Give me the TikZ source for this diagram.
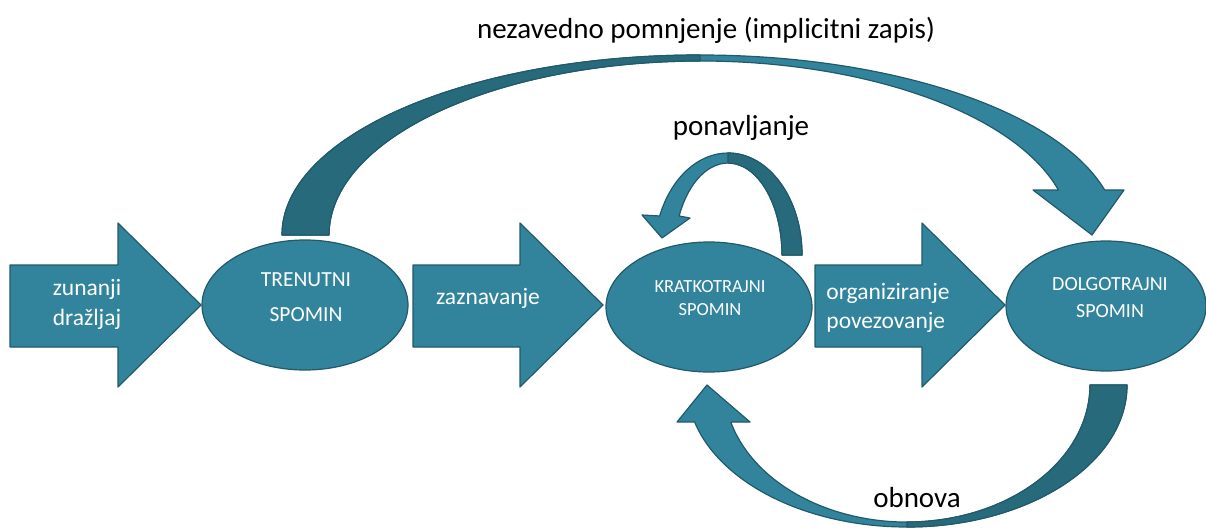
\documentclass[tikz,border=0pt]{standalone}
\usepackage{fontspec}
\setmainfont{Carlito}
\usepackage{tikz}
\usetikzlibrary{positioning}
\usetikzlibrary{shapes.geometric}
\usepackage{xcolor}
\definecolor{tealA}{HTML}{31849B}
\definecolor{tealB}{HTML}{276A7B}
\definecolor{rob}{HTML}{215A69}

\tikzset{
  lik/.style={fill=tealA, draw=rob, line width=1.2pt, line join=round},
  senca/.style={lik, fill=tealB},
  spomin/.style={ellipse, lik, minimum width=206, minimum height=130, inner sep=0pt},
  belo/.style={text=white, align=center, inner sep=0pt},
  napis/.style={text=black, inner sep=0pt, font=\fontsize{29}{35}\selectfont},
}

% ravna puscica: rep x, konica x
\newcommand{\blok}[2]{\filldraw[lik] (#1,265) -- ({#2-83},265) -- ({#2-83},223) -- (#2,305) -- ({#2-83},387) -- ({#2-83},347) -- (#1,347) -- cycle;}

\begin{document}
\begin{tikzpicture}[x=1pt, y=-1pt]
			\useasboundingbox (0,0) rectangle (1206,530);
			% ravne puscice
			\blok{10}{201}
			\blok{413}{603}
			\blok{815}{1005}
			% spomini
			\node[spomin] (tren) at (305,305) {};
			\node[spomin] (krat) at (709,307) {};
			\node[spomin, minimum width=200] (dolg) at (1106,306) {};
			\node[belo, font=\fontsize{21.5}{35}\selectfont] (trentxt) at (306,297) {TRENUTNI\\SPOMIN};
			\node[belo, font=\fontsize{18.5}{23}\selectfont] (krattxt) at (710,298) {KRATKOTRAJNI\\SPOMIN};
			\node[belo, font=\fontsize{20}{27}\selectfont] (dolgtxt) at (1110,298) {DOLGOTRAJNI\\SPOMIN};
			\node[belo, font=\fontsize{23.5}{30}\selectfont] (drazljaj) at (87,304) {zunanji\\dražljaj};
			\node[belo, font=\fontsize{23.5}{30}\selectfont] (zaznava) at (488,298) {zaznavanje};
			\node[belo, align=left, font=\fontsize{23.5}{29}\selectfont] (organ) at (888,308) {organiziranje\\povezovanje};
			% nezavedno pomnjenje
			\filldraw[lik] (282,235) arc[start angle=180, end angle=345.5, x radius=418, y radius=180]
				-- (1124,190) -- (1092,235) -- (1033,190) -- (1058.4,190)
				arc[start angle=345, end angle=180, x radius=371, y radius=174] -- cycle;
			\filldraw[senca] (282,235) arc[start angle=180, end angle=270, x radius=418, y radius=180]
				-- (700,61) arc[start angle=270, end angle=180, x radius=371, y radius=174] -- cycle;
			% ponavljanje
			\filldraw[lik] (802,255) arc[start angle=360, end angle=202.5, x radius=74, y radius=102]
				-- (642,215) -- (662,238) -- (690,218) -- (679.1,216)
				arc[start angle=205.1, end angle=360, x radius=54, y radius=92] -- cycle;
			\filldraw[senca] (728,153) arc[start angle=270, end angle=360, x radius=74, y radius=102]
				-- (782,255) arc[start angle=360, end angle=270, x radius=54, y radius=92] -- cycle;
			% obnova
			\filldraw[lik] (1127,385) arc[start angle=0, end angle=164.9, x radius=220, y radius=142]
				-- (677,422) -- (707,385) -- (750,422) -- (730.8,422.1)
				arc[start angle=164.3, end angle=0, x radius=183, y radius=137] -- cycle;
			\filldraw[senca] (1127,385) arc[start angle=0, end angle=90, x radius=220, y radius=142]
				-- (907,522) arc[start angle=90, end angle=0, x radius=183, y radius=137] -- cycle;
			% napisi
			\node[napis] (nezavedno) at (706,30) {nezavedno pomnjenje (implicitni zapis)};
			\node[napis] (ponav) at (741,128) {ponavljanje};
			\node[napis] (obnova) at (917,498) {obnova};
\end{tikzpicture}
\end{document}
